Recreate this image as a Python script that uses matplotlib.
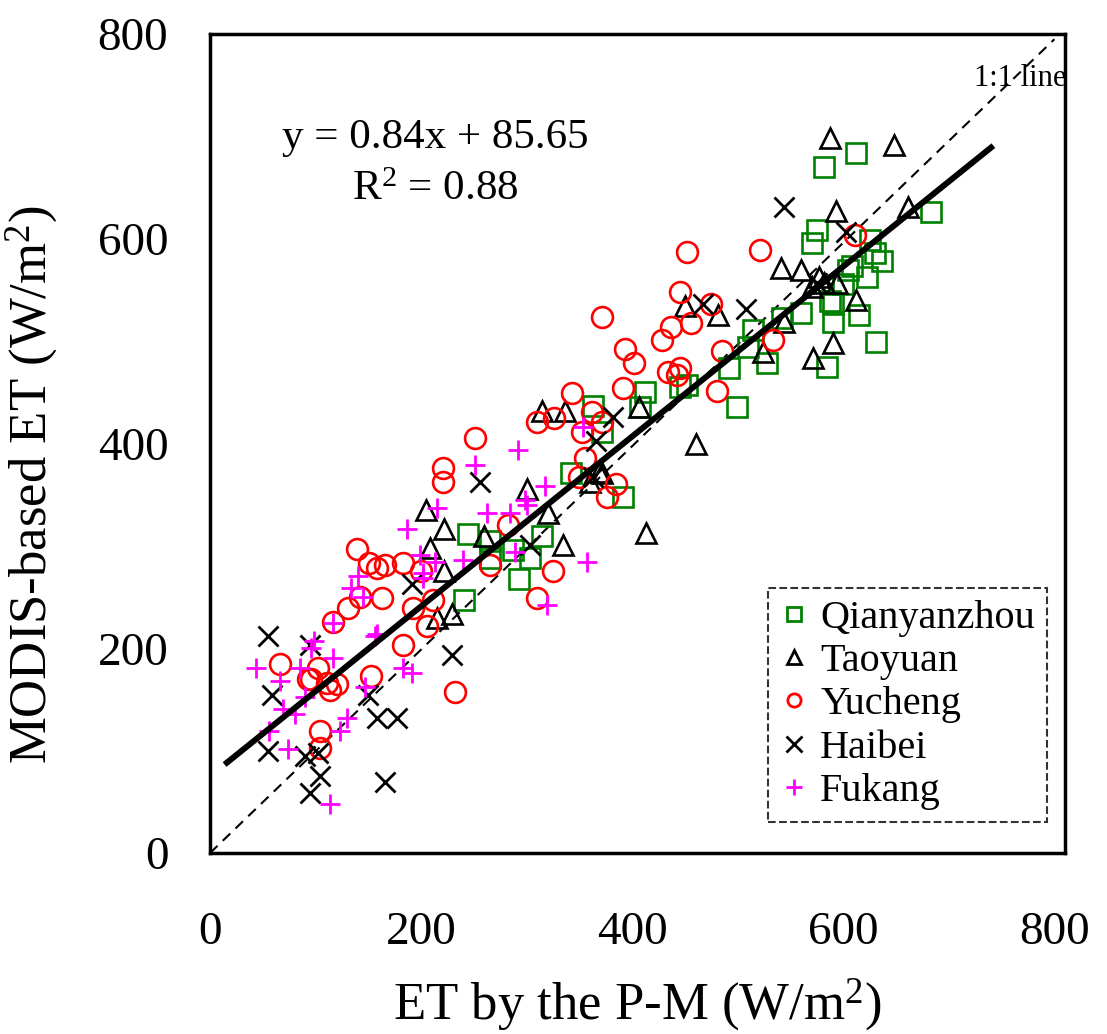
import matplotlib
matplotlib.use("Agg")
import matplotlib.pyplot as plt
from matplotlib.lines import Line2D

plt.rcParams['font.family'] = ['Liberation Serif', 'DejaVu Serif']
plt.rcParams['mathtext.fontset'] = 'custom'
plt.rcParams['mathtext.rm'] = 'Liberation Serif'
plt.rcParams['mathtext.it'] = 'Liberation Serif:italic'

# ---- data (P-M ET, MODIS ET) ----
qianyanzhou = [(612,684),(582,670),(575,609),(570,596),(683,626),(625,599),(630,586),(637,578),
               (608,573),(622,563),(587,539),(590,536),(590,519),(615,526),(560,528),(631,499),
               (585,475),(528,479),(542,523),(514,511),(510,494),(492,474),(499,436),(452,457),
               (445,455),(412,450),(407,436),(363,437),(371,411),(391,348),(342,371),(315,310),
               (303,288),(293,268),(287,296),(265,305),(265,288),(244,312),(241,247),(604,570),
               (600,556)]
taoyuan = [(587,699),(648,692),(593,627),(661,631),(541,572),(560,570),(577,563),(570,553),
           (582,557),(594,557),(612,540),(544,519),(590,498),(571,484),(524,489),(460,400),
           (406,436),(450,534),(481,526),(369,372),(413,313),(315,432),(336,432),(300,356),
           (371,371),(205,335),(222,317),(260,310),(208,298),(222,276),(334,301),(320,332),
           (215,230),(229,234),(360,362)]
yucheng = [(117,226),(183,203),(66,185),(102,181),(96,170),(111,166),(120,165),(114,159),
           (153,173),(104,119),(104,103),(93,170),(139,297),(151,283),(158,278),(166,281),
           (183,283),(200,276),(142,250),(163,249),(131,239),(192,239),(206,222),(211,247),
           (251,405),(221,376),(221,362),(310,421),(326,425),(343,449),(362,431),(371,421),
           (352,411),(355,386),(350,367),(376,348),(282,320),(265,281),(325,276),(310,249),
           (232,157),(371,524),(437,514),(456,518),(428,501),(393,492),(402,479),(434,470),
           (445,474),(442,467),(485,490),(480,451),(391,454),(385,361),(533,501),(452,587),
           (521,589),(445,548),(475,536),(611,604)]
haibei = [(55,212),(95,203),(59,154),(150,154),(158,132),(177,132),(55,100),(90,95),(102,98),
          (104,75),(95,59),(166,69),(191,263),(229,193),(303,301),(256,362),(366,403),(382,426),
          (467,536),(508,531),(363,367),(544,631),(603,607),(575,557)]
fukang = [(158,214),(99,207),(96,200),(44,181),(85,181),(117,191),(66,168),(90,152),(69,141),
          (81,136),(56,119),(74,102),(130,132),(123,119),(147,162),(183,181),(191,176),(114,48),
          (187,317),(140,271),(134,259),(145,250),(117,225),(199,291),(202,269),(156,212),
          (317,359),(215,337),(262,332),(284,332),(298,345),(240,286),(213,284),(202,274),
          (289,294),(357,284),(319,242),(292,394),(251,379),(353,416),(300,340)]

series_names = ['Qianyanzhou', 'Taoyuan', 'Yucheng', 'Haibei', 'Fukang']
series_data = [qianyanzhou, taoyuan, yucheng, haibei, fukang]
series_markers = ['s', '^', 'o', 'x', '+']
series_colors = ['#008000', 'black', '#ff0000', 'black', '#ff00ff']

fit_x = [16, 740]
fit_slope, fit_intercept = 0.83, 75.0
xticks = [0, 200, 400, 600, 800]
yticks = [0, 200, 400, 600, 800]

fig = plt.figure(figsize=(11.07, 10.34), dpi=100)
ax = fig.add_axes([0.1897, 0.175, 0.7723, 0.792])

for name, data, m, c in zip(series_names, series_data, series_markers, series_colors):
    xs = [p[0] for p in data]
    ys = [p[1] for p in data]
    if m in ('x', '+'):
        ax.plot(xs, ys, linestyle='none', marker=m, markersize=15, markeredgewidth=2,
                color=c, zorder=3)
    else:
        ms = 14 if m == 's' else 15
        ax.plot(xs, ys, linestyle='none', marker=m, markersize=ms, markeredgewidth=1.9,
                markerfacecolor='none', markeredgecolor=c, zorder=3)

ax.plot([0, 800], [0, 795], linestyle=(0, (5, 3.5)), color='black', linewidth=1.5, zorder=2)
fy = [fit_slope * v + fit_intercept for v in fit_x]
ax.plot(fit_x, fy, color='black', linewidth=4.3, zorder=4)

ax.text(213, 699, 'y = 0.84x + 85.65', ha='center', va='center', fontsize=31)
ax.text(213, 648, 'R$^{\\mathrm{2}}$ = 0.88', ha='center', va='center', fontsize=31)
ax.text(768, 757, '1:1 line', ha='center', va='center', fontsize=22)

ax.set_xlim(0, 810)
ax.set_ylim(0, 800)
ax.set_xticks(xticks)
ax.set_yticks(yticks)
ax.tick_params(length=0, labelsize=34)
ax.tick_params(axis='x', pad=42)
ax.tick_params(axis='y', pad=30)
for s in ax.spines.values():
    s.set_linewidth(2.5)

ax.set_xlabel('ET by the P-M (W/m$^{\\mathrm{2}}$)', fontsize=38, labelpad=16)
ax.set_ylabel('MODIS-based ET (W/m$^{\\mathrm{2}}$)', fontsize=38)
ax.yaxis.set_label_coords(-0.176, 0.45)

handles = []
for name, m, c in zip(series_names, series_markers, series_colors):
    if m in ('x', '+'):
        h = Line2D([], [], linestyle='none', marker=m, markersize=11, markeredgewidth=2, color=c)
    else:
        h = Line2D([], [], linestyle='none', marker=m, markersize=9.5, markeredgewidth=2,
                   markerfacecolor='none', markeredgecolor=c)
    handles.append(h)
leg = ax.legend(handles, series_names, loc='lower right', bbox_to_anchor=(0.979, 0.038),
                fontsize=29, frameon=True, fancybox=False, handlelength=0.7,
                handletextpad=0.3, labelspacing=0.15, borderpad=0.3, borderaxespad=0)
fr = leg.get_frame()
fr.set_edgecolor('black')
fr.set_linestyle('--')
fr.set_linewidth(1.5)

fig.savefig('out.png', dpi=100)
